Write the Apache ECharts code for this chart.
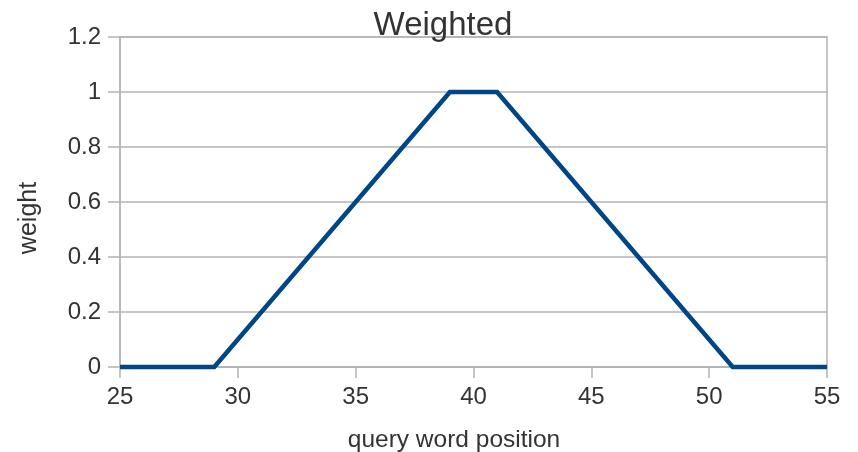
<!DOCTYPE html>
<html>
<head>
<meta charset="utf-8">
<script src="https://cdn.jsdelivr.net/npm/echarts@6/dist/echarts.min.js"></script>
<style>html,body{margin:0;padding:0;background:#fff}#c{width:858px;height:452px}</style>
</head>
<body>
<div id="c"></div>
<script>
const positions = [25, 29, 39, 41, 51, 55];
const weights = [0, 0, 1, 1, 0, 0];
const titleText = 'Weighted';
const xName = 'query word position';
const yName = 'weight';

const font = '"Liberation Sans", Arial, sans-serif';
const txt = '#333333';
const grid = '#b3b3b3';
const chart = echarts.init(document.getElementById('c'), null, {renderer: 'canvas'});
chart.setOption({
  animation: false,
  backgroundColor: '#ffffff',
  title: {
    text: titleText, left: 438, top: 4, textAlign: 'center',
    textStyle: {fontFamily: font, fontSize: 33, fontWeight: 'normal', color: txt}
  },
  grid: {left: 120, right: 31, top: 37, bottom: 85, show: true, borderColor: grid, borderWidth: 1.5},
  xAxis: {
    type: 'value', min: 25, max: 55, interval: 5,
    axisLine: {show: true, onZero: false, lineStyle: {color: grid, width: 1.5}},
    axisTick: {show: true, length: 11, lineStyle: {color: grid, width: 1.5}},
    splitLine: {show: false},
    axisLabel: {fontFamily: font, fontSize: 24, color: txt, margin: 18}
  },
  yAxis: {
    type: 'value', min: 0, max: 1.2, interval: 0.2,
    axisLine: {show: true, lineStyle: {color: grid, width: 1.5}},
    axisTick: {show: true, length: 12, lineStyle: {color: grid, width: 1.5}},
    splitLine: {show: true, lineStyle: {color: grid, width: 1.5}},
    axisLabel: {fontFamily: font, fontSize: 24, color: txt, margin: 19,
      formatter: v => String(Math.round(v * 10) / 10)}
  },
  graphic: [
    {type: 'text', x: 454, y: 440, style: {text: xName, font: '24.5px ' + font, fill: txt, align: 'center', verticalAlign: 'middle'}},
    {type: 'text', x: 29, y: 218, rotation: Math.PI / 2, style: {text: yName, font: '25px ' + font, fill: txt, align: 'center', verticalAlign: 'middle'}}
  ],
  series: [{
    type: 'line',
    data: positions.map((p, i) => [p, weights[i]]),
    symbol: 'none',
    lineStyle: {color: '#004586', width: 4.5, join: 'miter'},
    clip: false
  }]
});
</script>
</body>
</html>
